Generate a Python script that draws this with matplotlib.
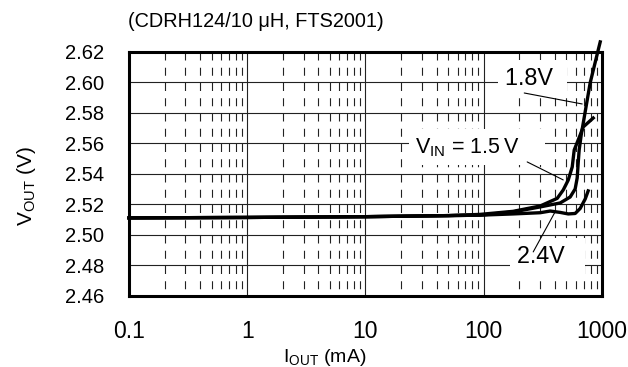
import matplotlib
matplotlib.use("Agg")
import matplotlib.pyplot as plt
from matplotlib.ticker import FixedLocator, LogLocator, NullFormatter
import numpy as np

plt.rcParams['font.family'] = ['Liberation Sans', 'DejaVu Sans']
plt.rcParams['mathtext.fontset'] = 'custom'
plt.rcParams['mathtext.rm'] = 'Liberation Sans'
plt.rcParams['mathtext.it'] = 'Liberation Sans:italic'

# output current (mA) and output voltage (V)
i_15 = [0.1, 1, 10, 50, 93, 177, 300, 418, 470, 518, 560, 582, 654, 693, 843]
v_15 = [2.5112, 2.5115, 2.5120, 2.5127, 2.5135, 2.5155, 2.5190, 2.5240, 2.5295,
        2.5360, 2.5446, 2.5557, 2.5656, 2.5708, 2.5767]

i_18 = [0.1, 1, 10, 50, 93, 177, 300, 443, 538, 593, 617, 629, 641, 667, 794, 929, 966]
v_18 = [2.5112, 2.5115, 2.5120, 2.5127, 2.5130, 2.5151, 2.5184, 2.5210, 2.5249,
        2.5302, 2.5374, 2.5472, 2.5557, 2.5656, 2.5997, 2.6213, 2.6266]

i_24 = [0.1, 1, 10, 50, 93, 177, 300, 365, 443, 518, 593, 654, 721, 764]
v_24 = [2.5112, 2.5115, 2.5120, 2.5127, 2.5130, 2.5138, 2.5146, 2.5157, 2.5148,
        2.5138, 2.5141, 2.5174, 2.5236, 2.5289]

y_ticks = [2.46, 2.48, 2.50, 2.52, 2.54, 2.56, 2.58, 2.60, 2.62]
x_ticks = [0.1, 1, 10, 100, 1000]
x_labels = ["0.1", "1", "10", "100", "1000"]

# curve labels: text, size, text anchor (mA, V), leader from, leader to
labels = [
    ("1.8V ", 16.8, (152, 2.5984), (220, 2.5931), (680, 2.5859)),
    ("V$_{\\rm IN}$ = 1.5\u2009V    ", 15.5, (26.3, 2.5538), (233, 2.5479), (470, 2.5361)),
    ("2.4V  ", 16.8, (192, 2.4816), (262, 2.4889), (401, 2.5151)),
]

fig = plt.figure(figsize=(6.28, 3.67), dpi=100)
ax = fig.add_axes([0.2054, 0.1935, 0.7532, 0.6649])

for i, v in [(i_24, v_24), (i_15, v_15), (i_18, v_18)]:
    ax.plot(i, v, color="black", lw=2.4, zorder=4, clip_on=False)

ax.set_xscale("log")
ax.set_xlim(0.1, 1000)
ax.set_ylim(2.46, 2.62)
ax.xaxis.set_major_locator(FixedLocator(x_ticks))
ax.set_xticklabels(x_labels)
ax.xaxis.set_minor_locator(LogLocator(base=10, subs=np.arange(2, 10)))
ax.xaxis.set_minor_formatter(NullFormatter())
ax.set_yticks(y_ticks)
ax.set_yticklabels(["%.2f" % t for t in y_ticks])

ax.set_axisbelow(True)
ax.grid(True, which="major", axis="both", color="#222222", lw=0.8)
lw_min = 0.8
ax.grid(True, which="minor", axis="x", color="#222222", lw=lw_min,
        linestyle=(8 * 0.72 / lw_min, (8 * 0.72 / lw_min, 7.25 * 0.72 / lw_min)))

ax.tick_params(axis="both", which="both", length=0)
ax.tick_params(axis="y", pad=18, labelsize=14.5)
ax.tick_params(axis="x", pad=17, labelsize=16.5)
for s in ax.spines.values():
    s.set_linewidth(2.2)
    s.set_zorder(5)

for txt, fs, pos, p0, p1 in labels:
    ax.text(pos[0], pos[1], txt, fontsize=fs, ha="left", va="baseline", zorder=2.5,
            bbox=dict(boxstyle="square,pad=0.3", fc="white", ec="none"))
    ax.annotate("", xy=p1, xytext=p0, zorder=3,
                arrowprops=dict(arrowstyle="-", lw=0.8, color="black", shrinkA=0, shrinkB=0))

fig.text(128 / 628, 1 - 27.3 / 367, "(CDRH124/10 \u03bcH, FTS2001)", fontsize=14.3,
         ha="left", va="baseline")
fig.text(27 / 628, 1 - 186.5 / 367, "V$_{\\rm OUT}$ (V)", fontsize=15, rotation=90,
         ha="center", va="center")
fig.text(283 / 628, 1 - 362 / 367, "I$_{\\rm OUT}$ (mA)", fontsize=14, ha="left", va="baseline")

fig.savefig("out.png", dpi=100)
